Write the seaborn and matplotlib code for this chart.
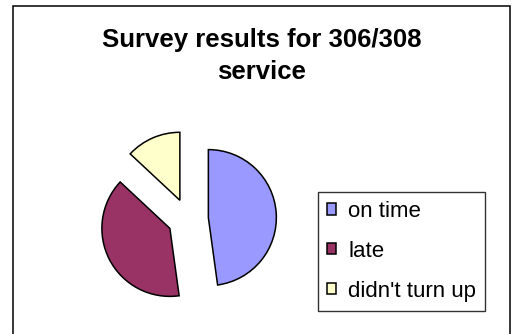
import matplotlib
matplotlib.use("Agg")
import matplotlib.pyplot as plt
from matplotlib.patches import Rectangle
import seaborn as sns

categories = ["on time", "late", "didn't turn up"]
values = [11, 9, 3]
colors = ["#9999FF", "#993366", "#FFFFCC"]
title = "Survey results for 306/308\nservice"

sns.set_theme(style="white")
plt.rcParams['font.family'] = ['Liberation Sans', 'DejaVu Sans']
plt.rcParams['text.color'] = 'black'

W, H = 512, 334
fig = plt.figure(figsize=(W / 100, H / 100), dpi=100)
fig.patch.set_facecolor("white")

# outer border
fig.patches.append(Rectangle((13 / W, -0.05), (510 - 13) / W, (334 - 6) / H + 0.05,
                             transform=fig.transFigure, fill=False,
                             edgecolor="black", linewidth=1.1, zorder=0))

# pie axes centred at (188, 219) px with radius ~68 px
cx, cy, half = 188, 219, 100
ax = fig.add_axes([(cx - half) / W, (H - cy - half) / H, 2 * half / W, 2 * half / H])
wedges, _ = ax.pie(values, colors=colors, startangle=90, counterclock=False,
                   explode=[0.3, 0.3, 0.3],
                   wedgeprops=dict(edgecolor="black", linewidth=1.1))
lim = half / 68
ax.set_xlim(-lim, lim)
ax.set_ylim(-lim, lim)
ax.set_aspect("equal")
ax.axis("off")

fig.text(261.5 / W, 1 - 79 / H, title, ha="center", va="baseline", color="black",
         fontsize=18.5, fontweight="bold", linespacing=1.4)

leg = fig.legend(wedges, categories, loc="upper left",
                 bbox_to_anchor=(318 / W, 1 - 192 / H), borderaxespad=0,
                 fontsize=16, frameon=True, fancybox=False,
                 handlelength=0.4, handleheight=0.4, handletextpad=0.55,
                 labelspacing=0.85, borderpad=0.4)
leg.get_frame().set_edgecolor("black")
leg.get_frame().set_linewidth(1.0)
for t in leg.get_texts():
    t.set_color("black")

fig.savefig("out.png", dpi=100, facecolor="white")
